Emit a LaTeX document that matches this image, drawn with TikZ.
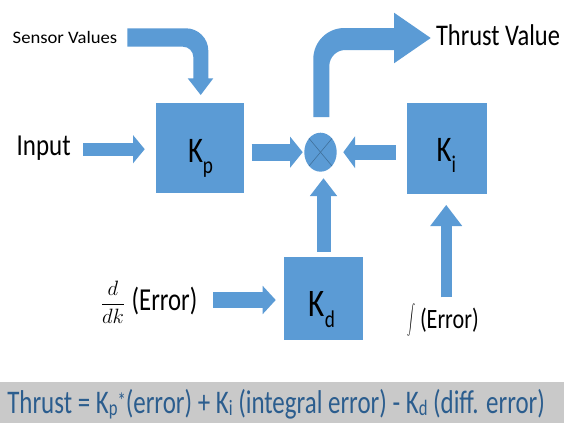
\documentclass[tikz,border=0pt]{standalone}
\usepackage{fontspec}
\setmainfont{Carlito}
\usepackage{graphicx}
\usetikzlibrary{arrows.meta,calc,shapes.geometric}

\definecolor{pidblue}{HTML}{5B9BD5}
\definecolor{pidline}{HTML}{41719C}
\definecolor{bargrey}{HTML}{C9C9C9}
\definecolor{eqblue}{HTML}{2B5D8E}

% text set at a given size and stretched to a given width
\newcommand{\fitw}[3]{\resizebox{#1}{\height}{\fontsize{#2}{#2}\selectfont #3}}
% gain symbol K with a lowered index
\newcommand{\kgain}[2]{\scalebox{0.8}[1]{\fontsize{#1}{#1}\selectfont K\raisebox{-0.3em}{\fontsize{24}{24}\selectfont #2}}}
% small indices in the control law line
\newcommand{\eqsub}[1]{\raisebox{-2pt}{\fontsize{22}{22}\selectfont #1}}
\newcommand{\eqsup}[1]{\raisebox{5pt}{\fontsize{22}{22}\selectfont #1}}

\begin{document}
\begin{tikzpicture}[x=1pt,y=-1pt,
  every node/.style={inner sep=0pt,outer sep=0pt},
  gainbox/.style 2 args={rectangle,fill=pidblue,minimum width=#1,minimum height=#2},
  blk/.style n args={3}{draw=pidblue,line width=#1,
    -{Triangle[width=#2,length=#3,line width=0pt]}},
  lbl/.style={anchor=base west,text=black}]

\fill[white] (0,0) rectangle (564,423);
\useasboundingbox (0,0) rectangle (564,423);

% gain blocks and summing junction
\node[gainbox={88.6pt}{90.3pt}] (kp) at (200,148.2) {};
\node[gainbox={80.6pt}{91pt}] (ki) at (446.9,148.5) {};
\node[gainbox={78.4pt}{83pt}] (kd) at (323.5,298.7) {};
\node[ellipse,fill=pidblue,minimum width=32.4pt,minimum height=39pt] (sum) at (320.5,152.2) {};
\draw[pidline,line width=0.6pt] ($(sum.center)+(-11.5,-13.8)$) -- ($(sum.center)+(11.5,13.8)$);
\draw[pidline,line width=0.6pt] ($(sum.center)+(11.5,-13.8)$) -- ($(sum.center)+(-11.5,13.8)$);

\node[lbl] (kplab) at (188,162.7) {\kgain{36}{p}};
\node[lbl] (kilab) at (436.7,161.7) {\kgain{36}{i}};
\node[lbl] (kdlab) at (308.7,316) {\kgain{39}{d}};

% signal labels
\node[lbl] (sensorlab) at (12.7,43.3) {\fitw{104.6pt}{17.5}{Sensor Values}};
\node[lbl] (inputlab) at (16.7,155) {\fitw{54pt}{30.5}{Input}};
\node[lbl] (thrustlab) at (436,45) {\fitw{124pt}{30}{Thrust Value}};
\node (dfrac) at (113,302) {\fontsize{22}{22}\selectfont$\displaystyle\frac{d}{dk}$};
\node[lbl] (derrlab) at (131.7,310) {\fitw{65.6pt}{32}{(Error)}};
\node (intsign) at (411,320) {\resizebox*{8pt}{33pt}{$\displaystyle\int$}};
\node[lbl] (ierrlab) at (420,328.7) {\fitw{58.7pt}{28}{(Error)}};

% straight block arrows
\coordinate (inputsrc) at (83.3,149.2);
\coordinate (derivsrc) at (213.3,300);
\coordinate (intsrc) at (446.2,297.3);
\draw[blk={13pt}{28.3pt}{11.7pt}] (inputsrc) -- ([xshift=-11pt]kp.west |- inputsrc);
\draw[blk={16.7pt}{31.3pt}{12.7pt}] ([xshift=7.4pt]kp.east |- sum.west) -- ([xshift=-1.6pt]sum.west);
\draw[blk={15pt}{31.7pt}{11.7pt}] ([xshift=-11pt]ki.west |- sum.east) -- ([xshift=6.6pt]sum.east);
\draw[blk={14pt}{27.3pt}{17.7pt}] ([yshift=5.6pt]kd.north) -- ([yshift=-6.6pt]sum.south -| kd.north);
\draw[blk={16.6pt}{28.3pt}{13pt}] (derivsrc) -- ([xshift=-8.6pt]kd.west |- derivsrc);
\draw[blk={11pt}{32pt}{21pt}] (intsrc) -- ([yshift=-11pt]ki.south -| intsrc);

% bent arrow from the sensor label down into Kp
\fill[pidblue] (127.3,28.3) -- (186,28.3) .. controls (198.2,28.3) and (208.3,38.4) .. (208.3,50.6)
  -- (208.3,78.3) -- (213.3,78.3) -- (200.7,95) -- (187.7,78.3) -- (193.3,78.3) -- (193.3,57)
  .. controls (193.3,51.3) and (188.7,46.7) .. (183,46.7) -- (127.3,46.7) -- cycle;

% bent arrow from the junction up to the thrust output
\fill[pidblue] (313.3,117) -- (313.3,59) .. controls (313.3,41.9) and (327.2,28) .. (344.3,28)
  -- (394,28) -- (394,12.7) -- (430.7,38) -- (394,63.3) -- (394,50) -- (345.3,50)
  .. controls (336.5,50) and (329.3,57.2) .. (329.3,66) -- (329.3,117) -- cycle;

% control law strip
\fill[bargrey] (0,381.7) rectangle (564,423);
\node[anchor=base west,text=eqblue] (eqn) at (7.3,413.5)
  {\fitw{537.7pt}{33}{Thrust = K\eqsub{p}\eqsup{*}(error) + K\eqsub{i} (integral error) - K\eqsub{d} (diff. error)}};
\end{tikzpicture}
\end{document}
